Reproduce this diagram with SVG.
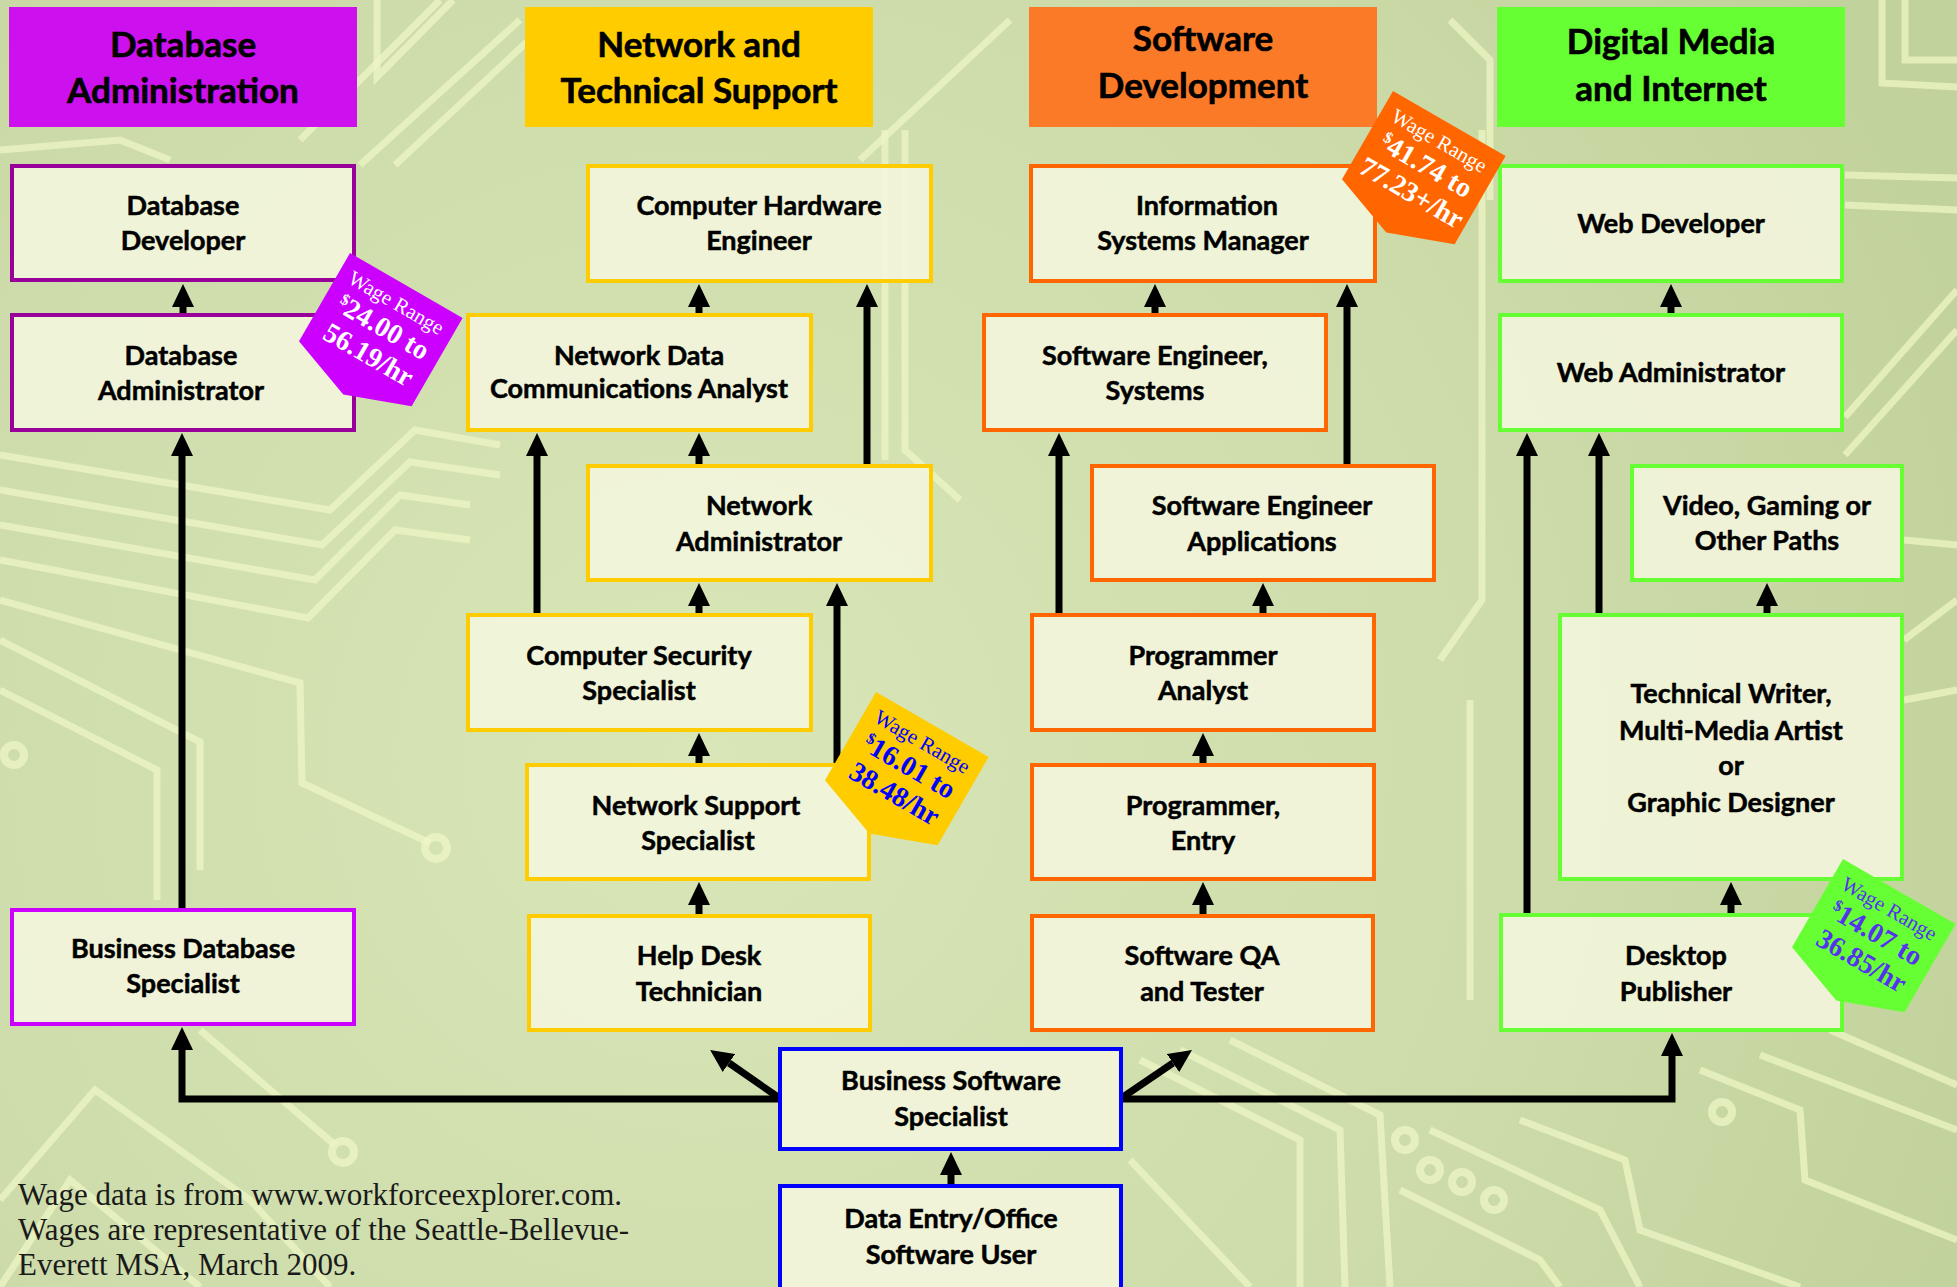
<svg xmlns="http://www.w3.org/2000/svg" width="1957" height="1287" viewBox="0 0 1957 1287">
<defs>
<radialGradient id="bgg" cx="700" cy="760" r="1350" gradientUnits="userSpaceOnUse">
<stop offset="0" stop-color="#d9e6b8"/>
<stop offset="0.6" stop-color="#cddcaa"/>
<stop offset="1" stop-color="#c2d29c"/>
</radialGradient>
<marker id="ah" viewBox="0 0 23 22" refX="0" refY="11" markerWidth="23" markerHeight="22" markerUnits="userSpaceOnUse" orient="auto">
<path d="M0,0 L23,11 L0,22 Z" fill="#000"/>
</marker>
<style>
.tr{fill:none;stroke:#eef6c4;stroke-width:7;opacity:.75;stroke-linejoin:miter}
.pad{fill:none;stroke:#eef6c4;stroke-width:8;opacity:.75}
.hdr{stroke:none}
.ht{font-family:Lato,"Liberation Sans",sans-serif;font-weight:700;font-size:35px;fill:#000;stroke:#000;stroke-width:0.6;text-anchor:middle}
.box{fill:#f3f5db;fill-opacity:.9;stroke-width:4}
.db{stroke:#990099}
.dbb{stroke:#cc00ff}
.nw{stroke:#ffcc00}
.sw{stroke:#ff6600}
.dm{stroke:#66ff33}
.bl{stroke:#0000ff}
.t{font-family:Lato,"Liberation Sans",sans-serif;font-weight:700;font-size:27px;fill:#000;stroke:#000;stroke-width:0.5;text-anchor:middle}
.cn{fill:none;stroke:#000;stroke-width:7;stroke-linejoin:miter;marker-end:url(#ah)}
.w1{font-family:"Liberation Serif",serif;font-size:21px;text-anchor:middle}
.w2{font-family:"Liberation Serif",serif;font-size:28px;font-weight:700;text-anchor:middle}
.note{font-family:"Liberation Serif",serif;font-size:31px;fill:#1a1a1a}
</style>
</defs>

<g id="background">
<rect x="0" y="0" width="1957" height="1287" fill="url(#bgg)"/>
<path class="tr" d="M377 0 V77 L453 0"/>
<path class="tr" d="M300 140 L440 0"/>
<path class="tr" d="M360 165 L520 20"/>
<path class="tr" d="M395 165 L545 25"/>
<path class="tr" d="M0 150 L120 140 L170 160"/>
<path class="tr" d="M0 455 L330 510 L415 430 L500 445"/>
<path class="tr" d="M0 490 L322 545 L410 462 L500 475"/>
<path class="tr" d="M0 525 L315 580 L400 495 L470 505"/>
<path class="tr" d="M0 560 L308 618 L395 530 L470 540"/>
<path class="tr" d="M0 600 L300 683 L302 783 L430 843"/>
<path class="tr" d="M0 640 L200 742 L200 870"/>
<path class="tr" d="M0 690 L157 770 L157 900"/>
<circle class="pad" cx="436" cy="848" r="11"/>
<circle class="pad" cx="14" cy="755" r="10"/>
<path class="tr" d="M0 1200 L95 1090 L250 1200 L330 1287"/>
<path class="tr" d="M0 1287 L70 1180 L200 1287"/>
<path class="tr" d="M200 1030 L335 1145"/>
<circle class="pad" cx="343" cy="1152" r="11"/>
<path class="tr" d="M860 160 L1010 20"/>
<path class="tr" d="M885 130 V460"/>
<path class="tr" d="M905 130 V450 L960 500"/>
<path class="tr" d="M1450 20 L1490 60 V200"/>
<path class="tr" d="M1482 130 V600 L1440 660"/>
<path class="tr" d="M1470 700 V1000"/>
<path class="tr" d="M1882 0 V83 L1957 87"/>
<path class="tr" d="M1905 0 V60 L1957 60"/>
<path class="tr" d="M1845 175 L1957 178"/>
<path class="tr" d="M1845 205 L1957 210"/>
<path class="tr" d="M1845 417 L1957 290"/>
<path class="tr" d="M1845 455 L1957 330"/>
<path class="tr" d="M1904 540 L1957 545"/>
<path class="tr" d="M1904 640 L1957 600"/>
<path class="tr" d="M1904 700 L1957 690"/>
<path class="tr" d="M1140 1060 L1300 1140 L1300 1287"/>
<path class="tr" d="M1180 1050 L1340 1130 L1345 1287"/>
<path class="tr" d="M1230 1040 L1380 1115 L1390 1287"/>
<path class="tr" d="M1400 1190 L1540 1260 L1560 1287"/>
<path class="tr" d="M1430 1130 L1600 1210 L1640 1287"/>
<path class="tr" d="M1520 1120 L1625 1160 L1640 1230 L1800 1287"/>
<path class="tr" d="M1700 1070 L1800 1110 L1805 1180 L1957 1240"/>
<path class="tr" d="M1760 1055 L1957 1130"/>
<path class="tr" d="M1830 1030 L1957 1085"/>
<path class="tr" d="M1130 1160 L1250 1287"/>
<circle class="pad" cx="1405" cy="1140" r="10"/>
<circle class="pad" cx="1430" cy="1170" r="10"/>
<circle class="pad" cx="1462" cy="1182" r="10"/>
<circle class="pad" cx="1494" cy="1200" r="10"/>
<circle class="pad" cx="1722" cy="1112" r="10"/>
</g>

<g id="connectors">
<path class="cn" d="M183 313 V307"/>
<path class="cn" d="M182 908 V456"/>
<path class="cn" d="M778 1099 H182 V1050"/>
<path class="cn" d="M699 313 V307"/>
<path class="cn" d="M867 464 V307"/>
<path class="cn" d="M699 464 V456"/>
<path class="cn" d="M537 613 V456"/>
<path class="cn" d="M699 613 V606"/>
<path class="cn" d="M837 763 V606"/>
<path class="cn" d="M699 763 V756"/>
<path class="cn" d="M699 914 V905"/>
<path class="cn" d="M778 1097 L729 1063"/>
<path class="cn" d="M1155 313 V307"/>
<path class="cn" d="M1347 464 V307"/>
<path class="cn" d="M1059 613 V456"/>
<path class="cn" d="M1263 613 V606"/>
<path class="cn" d="M1203 763 V756"/>
<path class="cn" d="M1203 914 V905"/>
<path class="cn" d="M1123 1097 L1173 1063"/>
<path class="cn" d="M1671 313 V307"/>
<path class="cn" d="M1527 913 V456"/>
<path class="cn" d="M1599 613 V456"/>
<path class="cn" d="M1767 613 V606"/>
<path class="cn" d="M1731 913 V905"/>
<path class="cn" d="M1123 1099 H1672 V1056"/>
<path class="cn" d="M951 1184 V1175"/>
</g>

<g id="headers">
<g id="hdr-database"><rect class="hdr" x="9" y="7" width="348" height="120" fill="#cc11ee"/><text class="ht" x="183" y="57">Database</text><text class="ht" x="183" y="103">Administration</text></g>
<g id="hdr-network"><rect class="hdr" x="525" y="7" width="348" height="120" fill="#ffcc00"/><text class="ht" x="699" y="57">Network and</text><text class="ht" x="699" y="103">Technical Support</text></g>
<g id="hdr-software"><rect class="hdr" x="1029" y="7" width="348" height="120" fill="#fb7a28"/><text class="ht" x="1203" y="51">Software</text><text class="ht" x="1203" y="98">Development</text></g>
<g id="hdr-digital"><rect class="hdr" x="1497" y="7" width="348" height="120" fill="#66ff33"/><text class="ht" x="1671" y="54">Digital Media</text><text class="ht" x="1671" y="101">and Internet</text></g>
</g>

<g id="nodes">
<g id="database-developer"><rect class="box db" x="12" y="166" width="342" height="114"/><text class="t" x="183" y="215">Database</text><text class="t" x="183" y="250">Developer</text></g>
<g id="database-administrator"><rect class="box db" x="12" y="315" width="342" height="115"/><text class="t" x="181" y="365">Database</text><text class="t" x="181" y="400">Administrator</text></g>
<g id="business-database-specialist"><rect class="box dbb" x="12" y="910" width="342" height="114"/><text class="t" x="183" y="958">Business Database</text><text class="t" x="183" y="993">Specialist</text></g>

<g id="computer-hardware-engineer"><rect class="box nw" x="588" y="166" width="343" height="115"/><text class="t" x="759" y="215">Computer Hardware</text><text class="t" x="759" y="250">Engineer</text></g>
<g id="network-data-communications-analyst"><rect class="box nw" x="468" y="315" width="343" height="115"/><text class="t" x="639" y="365">Network Data</text><text class="t" x="639" y="398">Communications Analyst</text></g>
<g id="network-administrator"><rect class="box nw" x="588" y="466" width="343" height="114"/><text class="t" x="759" y="515">Network</text><text class="t" x="759" y="551">Administrator</text></g>
<g id="computer-security-specialist"><rect class="box nw" x="468" y="615" width="343" height="115"/><text class="t" x="639" y="665">Computer Security</text><text class="t" x="639" y="700">Specialist</text></g>
<g id="network-support-specialist"><rect class="box nw" x="527" y="765" width="342" height="114"/><text class="t" x="696" y="815">Network Support</text><text class="t" x="698" y="850">Specialist</text></g>
<g id="help-desk-technician"><rect class="box nw" x="529" y="916" width="341" height="114"/><text class="t" x="699" y="965">Help Desk</text><text class="t" x="699" y="1001">Technician</text></g>

<g id="information-systems-manager"><rect class="box sw" x="1031" y="166" width="344" height="115"/><text class="t" x="1207" y="215">Information</text><text class="t" x="1203" y="250">Systems Manager</text></g>
<g id="software-engineer-systems"><rect class="box sw" x="984" y="315" width="342" height="115"/><text class="t" x="1155" y="365">Software Engineer,</text><text class="t" x="1155" y="400">Systems</text></g>
<g id="software-engineer-applications"><rect class="box sw" x="1092" y="466" width="342" height="114"/><text class="t" x="1262" y="515">Software Engineer</text><text class="t" x="1262" y="551">Applications</text></g>
<g id="programmer-analyst"><rect class="box sw" x="1032" y="615" width="342" height="115"/><text class="t" x="1203" y="665">Programmer</text><text class="t" x="1203" y="700">Analyst</text></g>
<g id="programmer-entry"><rect class="box sw" x="1032" y="765" width="342" height="114"/><text class="t" x="1203" y="815">Programmer,</text><text class="t" x="1203" y="850">Entry</text></g>
<g id="software-qa-tester"><rect class="box sw" x="1032" y="916" width="341" height="114"/><text class="t" x="1202" y="965">Software QA</text><text class="t" x="1202" y="1001">and Tester</text></g>

<g id="web-developer"><rect class="box dm" x="1500" y="166" width="342" height="115"/><text class="t" x="1671" y="233">Web Developer</text></g>
<g id="web-administrator"><rect class="box dm" x="1500" y="315" width="342" height="115"/><text class="t" x="1671" y="382">Web Administrator</text></g>
<g id="video-gaming-other"><rect class="box dm" x="1632" y="466" width="270" height="114"/><text class="t" x="1767" y="515">Video, Gaming or</text><text class="t" x="1767" y="550">Other Paths</text></g>
<g id="technical-writer"><rect class="box dm" x="1560" y="615" width="342" height="264"/><text class="t" x="1731" y="703">Technical Writer,</text><text class="t" x="1731" y="740">Multi-Media Artist</text><text class="t" x="1731" y="775">or</text><text class="t" x="1731" y="812">Graphic Designer</text></g>
<g id="desktop-publisher"><rect class="box dm" x="1501" y="915" width="341" height="115"/><text class="t" x="1676" y="965">Desktop</text><text class="t" x="1676" y="1001">Publisher</text></g>

<g id="business-software-specialist"><rect class="box bl" x="780" y="1049" width="341" height="100"/><text class="t" x="951" y="1090">Business Software</text><text class="t" x="951" y="1126">Specialist</text></g>
<g id="data-entry-office-user"><rect class="box bl" x="780" y="1186" width="341" height="110"/><text class="t" x="951" y="1228">Data Entry/Office</text><text class="t" x="951" y="1264">Software User</text></g>
</g>

<g id="wage-badges">
<g id="wage-database" transform="translate(350,253) rotate(30)"><polygon points="0,0 130,0 130,102 65,126 0,102" fill="#cc00ff"/><text class="w1" x="65" y="27" fill="#fff">Wage Range</text><text class="w2" x="66" y="57" fill="#fff"><tspan font-size="16" dy="-9">$</tspan><tspan dy="9">24.00 to</tspan></text><text class="w2" x="67" y="88" fill="#fff">56.19/hr</text></g>
<g id="wage-network" transform="translate(876,692) rotate(30)"><polygon points="0,0 130,0 130,102 65,126 0,102" fill="#ffcc00"/><text class="w1" x="65" y="27" fill="#0000ff">Wage Range</text><text class="w2" x="66" y="57" fill="#0000ff"><tspan font-size="16" dy="-9">$</tspan><tspan dy="9">16.01 to</tspan></text><text class="w2" x="67" y="88" fill="#0000ff">38.48/hr</text></g>
<g id="wage-software" transform="translate(1393,91) rotate(30)"><polygon points="0,0 130,0 130,102 65,126 0,102" fill="#ff6600"/><text class="w1" x="65" y="27" fill="#fff">Wage Range</text><text class="w2" x="66" y="57" fill="#fff"><tspan font-size="16" dy="-9">$</tspan><tspan dy="9">41.74 to</tspan></text><text class="w2" x="67" y="88" fill="#fff">77.23+/hr</text></g>
<g id="wage-digital" transform="translate(1843,859) rotate(30)"><polygon points="0,0 130,0 130,102 65,126 0,102" fill="#66ff33"/><text class="w1" x="65" y="27" fill="#5533ee">Wage Range</text><text class="w2" x="66" y="57" fill="#5533ee"><tspan font-size="16" dy="-9">$</tspan><tspan dy="9">14.07 to</tspan></text><text class="w2" x="67" y="88" fill="#5533ee">36.85/hr</text></g>
</g>

<g id="footnote">
<text class="note" x="18" y="1205">Wage data is from www.workforceexplorer.com.</text>
<text class="note" x="18" y="1240">Wages are representative of the Seattle-Bellevue-</text>
<text class="note" x="18" y="1275">Everett MSA, March 2009.</text>
</g>
</svg>
